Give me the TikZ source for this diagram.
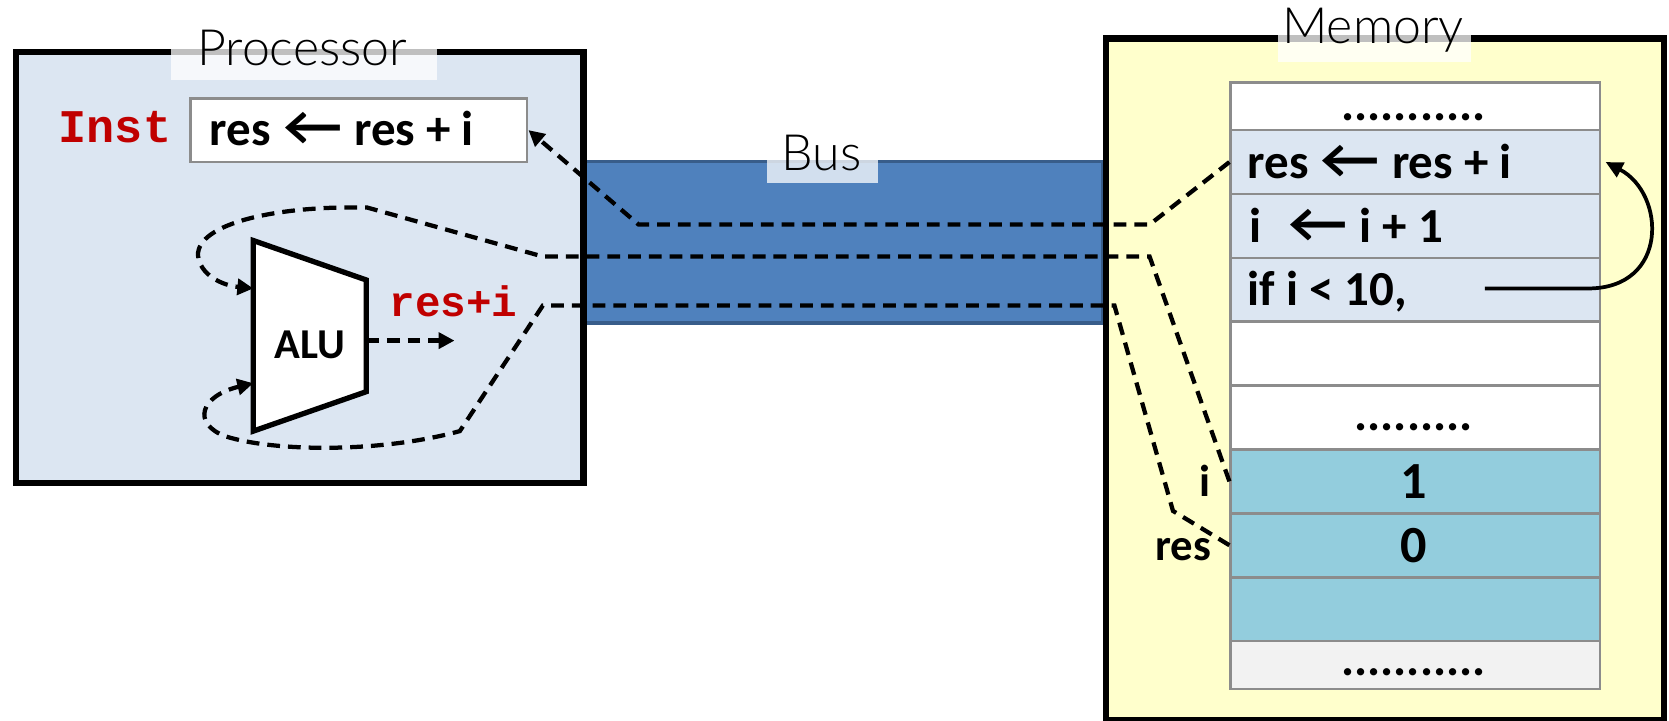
\documentclass[tikz,border=0pt]{standalone}
\usepackage{fontspec}
\setmainfont{Carlito}
\newfontfamily\codefont{Liberation Mono}
\newfontfamily\symfont{Lato}
\IfFontExistsTF{Lato Light}
  {\newfontfamily\titlefont{Lato Light}}
  {\newfontfamily\titlefont{Carlito}}
\usetikzlibrary{arrows.meta,calc}

\definecolor{procfill}{HTML}{DCE6F2}
\definecolor{memfill}{HTML}{FFFFCC}
\definecolor{busfill}{HTML}{4F81BD}
\definecolor{busedge}{HTML}{385D8A}
\definecolor{codecell}{HTML}{DCE6F2}
\definecolor{datacell}{HTML}{93CDDD}
\definecolor{endcell}{HTML}{F2F2F2}
\definecolor{cellline}{HTML}{8C8C8C}
\definecolor{darkred}{HTML}{C00000}

% wide, heavy left arrow used in the assignment statements
\newcommand{\larr}{\scalebox{1.25}[1.1]{\symfont\bfseries ←}}

\tikzset{
  unitbox/.style={draw=black, line width=6pt, inner sep=0pt, anchor=north west},
  labelbg/.style={fill=white, fill opacity=0.75, draw=none, inner sep=0pt, anchor=north west},
  labeltext/.style={font=\fontsize{47}{47}\selectfont\titlefont, inner sep=0pt, anchor=base},
  celltext/.style={font=\fontsize{46}{46}\selectfont\bfseries, inner sep=0pt},
  cell/.style={draw=cellline, line width=2.5pt, minimum width=347pt, inner sep=0pt, anchor=north west},
  codelabel/.style={font=\fontsize{44}{44}\selectfont\codefont\bfseries, text=darkred, inner sep=0pt},
  wire/.style={line width=4pt, dash pattern=on 12pt off 7.5pt, line join=miter},
  tipA/.style={-{Triangle[length=15pt,width=15pt]}},
}

\begin{document}
\begin{tikzpicture}[x=1pt,y=-1pt]
\useasboundingbox (0,0) rectangle (1568,677);

% bus between processor and memory
\node[fill=busfill, draw=busedge, line width=3.5pt, minimum width=489pt, minimum height=152pt,
      inner sep=0pt, anchor=north west] (bus) at (545,150) {};

% processor
\node[unitbox, fill=procfill, minimum width=533pt, minimum height=405pt] (proc) at (12,46) {};
% memory
\node[unitbox, fill=memfill, minimum width=524pt, minimum height=641pt] (mem) at (1036,33) {};

% titles
\node[labelbg, minimum width=250pt, minimum height=34pt] (procbg) at (160,41) {};
\node[labeltext] (proctitle) at (284,62) {Processor};
\node[labelbg, minimum width=182pt, minimum height=28pt] (membg) at (1200,30) {};
\node[labeltext] (memtitle) at (1290,41) {Memory};
\node[labelbg, minimum width=105pt, minimum height=22pt] (busbg) at (720,150) {};
\node[labeltext] (bustitle) at (772,160) {Bus};

% instruction register
\node[draw=cellline, line width=2.5pt, fill=white, minimum width=316pt, minimum height=60pt,
      inner sep=0pt, anchor=north west] (inst) at (178,91) {};
\node[celltext, anchor=base west] (insttext) at (197,137) {res \larr{} res + i};
\node[codelabel, anchor=base east] (instlabel) at (161,134) {Inst};

% ALU
\draw[line width=5pt, fill=white, line join=miter] (238,226) -- (344,263) -- (344,368) -- (238,405) -- cycle;
\node[font=\fontsize{40}{40}\selectfont\bfseries, inner sep=0pt, anchor=base] (alu) at (291,337) {ALU};
\coordinate (aluinA) at (238,271);
\coordinate (aluinB) at (238,360);
\coordinate (aluout) at (344,320);
\coordinate (alures) at (427,320);
\node[codelabel, font=\fontsize{40}{40}\selectfont\codefont\bfseries, anchor=base west] (resi) at (366,297) {res+i};

% memory cells
\node[cell, fill=white,    minimum height=45pt] (c1)  at (1155,76)  {};
\node[cell, fill=codecell, minimum height=60pt] (c2)  at (1155,121) {};
\node[cell, fill=codecell, minimum height=60pt] (c3)  at (1155,181) {};
\node[cell, fill=codecell, minimum height=60pt] (c4)  at (1155,241) {};
\node[cell, fill=white,    minimum height=60pt] (c5)  at (1155,301) {};
\node[cell, fill=white,    minimum height=60pt] (c6)  at (1155,361) {};
\node[cell, fill=datacell, minimum height=60pt] (c7)  at (1155,421) {};
\node[cell, fill=datacell, minimum height=60pt] (c8)  at (1155,481) {};
\node[cell, fill=datacell, minimum height=60pt] (c9)  at (1155,541) {};
\node[cell, fill=endcell,  minimum height=45pt] (c10) at (1155,601) {};

\node[celltext, anchor=base] (t1) at (1328,113) {...........};
\node[celltext, anchor=base west] (t2) at (1172,168) {res \larr{} res + i};
\node[celltext, anchor=base west] (t3) at (1174,228) {i\hspace*{24pt}\larr{} i + 1};
\node[celltext, anchor=base west] (t4) at (1172,287) {if i < 10,};
\node[celltext, anchor=base] (t6) at (1328,404) {.........};
\node[celltext, font=\fontsize{49}{49}\selectfont\bfseries, anchor=base] (t7) at (1328,468) {1};
\node[celltext, font=\fontsize{49}{49}\selectfont\bfseries, anchor=base] (t8) at (1328,528) {0};
\node[celltext, anchor=base] (t10) at (1328,635) {...........};

\node[celltext, font=\fontsize{42}{42}\selectfont\bfseries, anchor=base] (lbli) at (1132,466) {i};
\node[celltext, font=\fontsize{42}{42}\selectfont\bfseries, anchor=base east] (lblres) at (1138,527) {res};

% branch back to the loop body
\coordinate (loopstart) at (1395,271);
\draw[line width=3.5pt, -{Triangle[length=16pt,width=15pt]}]
  (loopstart) -- (1492,271) .. controls (1568,271) and (1565,182) .. ([xshift=4pt]c2.east);

% instruction fetch
\draw[wire, tipA] (c2.west) -- (1080,211) -- (600,211) -- (inst.east);
% operand i
\draw[wire, tipA] (c7.west) -- (1080,241) -- (510,241) -- (345,195)
  .. controls (260,193) and (185,210) .. (186,240)
  .. controls (188,258) and (208,268) .. (aluinA);
% operand res
\draw[wire, tipA] (c8.west) -- (1102,480) -- (1047,287) -- (510,287) -- (432,405)
  .. controls (360,425) and (260,425) .. (212,410)
  .. controls (180,398) and (188,372) .. (aluinB);
% ALU result
\draw[wire, tipA] (aluout) -- (alures);
\end{tikzpicture}
\end{document}
